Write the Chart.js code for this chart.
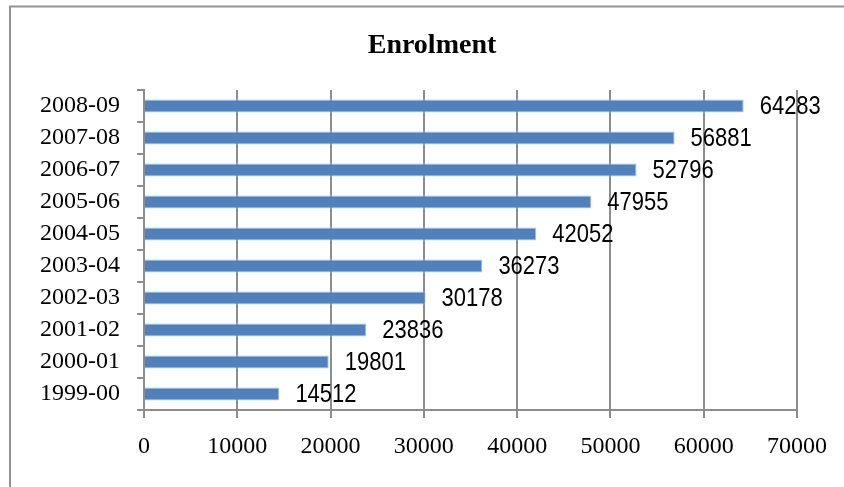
<!DOCTYPE html>
<html>
<head>
<meta charset="utf-8">
<script src="https://cdn.jsdelivr.net/npm/chart.js@4.4.1/dist/chart.umd.min.js"></script>
<style>
html,body{margin:0;padding:0;background:#fff;overflow:hidden;}
#wrap{position:relative;width:844px;height:487px;overflow:hidden;}
</style>
</head>
<body>
<div id="wrap"><canvas id="c" width="864" height="487"></canvas></div>
<script>
const categories = ['2008-09','2007-08','2006-07','2005-06','2004-05','2003-04','2002-03','2001-02','2000-01','1999-00'];
const enrolment = [64283, 56881, 52796, 47955, 42052, 36273, 30178, 23836, 19801, 14512];
const xTicks = [0, 10000, 20000, 30000, 40000, 50000, 60000, 70000];
const titleText = 'Enrolment';

const framePlugin = {
  id: 'frame',
  beforeDraw(chart) {
    const ctx = chart.ctx;
    ctx.save();
    ctx.fillStyle = '#fff';
    ctx.fillRect(0, 0, chart.width, chart.height);
    ctx.strokeStyle = '#939393';
    ctx.lineWidth = 2;
    ctx.strokeRect(10, 6.5, 900, 600);
    ctx.restore();
  }
};

const labelPlugin = {
  id: 'valueLabels',
  afterDatasetsDraw(chart) {
    const ctx = chart.ctx;
    const meta = chart.getDatasetMeta(0);
    ctx.save();
    ctx.fillStyle = '#000';
    ctx.font = '25px "Liberation Sans", Arial, sans-serif';
    ctx.textBaseline = 'middle';
    ctx.textAlign = 'left';
    meta.data.forEach((bar, i) => {
      const txt = String(chart.data.datasets[0].data[i]);
      ctx.save();
      ctx.translate(bar.x + 16, bar.y + 1);
      ctx.scale(0.88, 1);
      ctx.fillText(txt, 0, 0);
      ctx.restore();
    });
    ctx.restore();
  }
};

new Chart(document.getElementById('c'), {
  type: 'bar',
  data: {
    labels: categories,
    datasets: [{
      data: enrolment,
      xAxisID: 'x',
      yAxisID: 'y',
      backgroundColor: '#4f81bd',
      borderColor: '#a9c2df',
      borderWidth: 1,
      categoryPercentage: 1,
      barPercentage: 0.41
    }]
  },
  options: {
    indexAxis: 'y',
    responsive: false,
    animation: false,
    layout: { padding: { left: 0, right: 0, top: 0, bottom: 0 } },
    plugins: {
      legend: { display: false },
      tooltip: { enabled: false },
      title: {
        display: true,
        text: titleText,
        color: '#000',
        font: { family: '"Liberation Serif", "Times New Roman", serif', size: 28, weight: 'bold', lineHeight: 1.2 },
        padding: { top: 29, bottom: 27.4 }
      }
    },
    scales: {
      x: {
        min: 0,
        max: 70000,
        afterBuildTicks(scale) { scale.ticks = xTicks.map(v => ({ value: v })); },
        afterFit(scale) { scale.height = 77; },
        border: { display: true, color: '#8c8c8c', width: 2 },
        grid: { display: true, color: '#8c8c8c', lineWidth: 2, tickLength: 8, drawTicks: true },
        ticks: {
          color: '#000',
          padding: 14,
          maxRotation: 0,
          font: { family: '"Liberation Serif", "Times New Roman", serif', size: 24 },
          callback: v => String(v)
        }
      },
      y: {
        position: 'left',
        afterFit(scale) { scale.width = 144; },
        border: { display: true, color: '#8c8c8c', width: 2 },
        grid: { display: true, drawOnChartArea: false, color: '#8c8c8c', lineWidth: 2, tickLength: 7, offset: true },
        ticks: {
          color: '#000',
          padding: 17,
          font: { family: '"Liberation Serif", "Times New Roman", serif', size: 24 }
        }
      },
      spacer: {
        type: 'linear',
        position: 'right',
        display: true,
        afterFit(scale) { scale.width = 67; },
        border: { display: false },
        grid: { display: false, drawTicks: false },
        ticks: { display: false }
      }
    }
  },
  plugins: [framePlugin, labelPlugin]
});
</script>
</body>
</html>
